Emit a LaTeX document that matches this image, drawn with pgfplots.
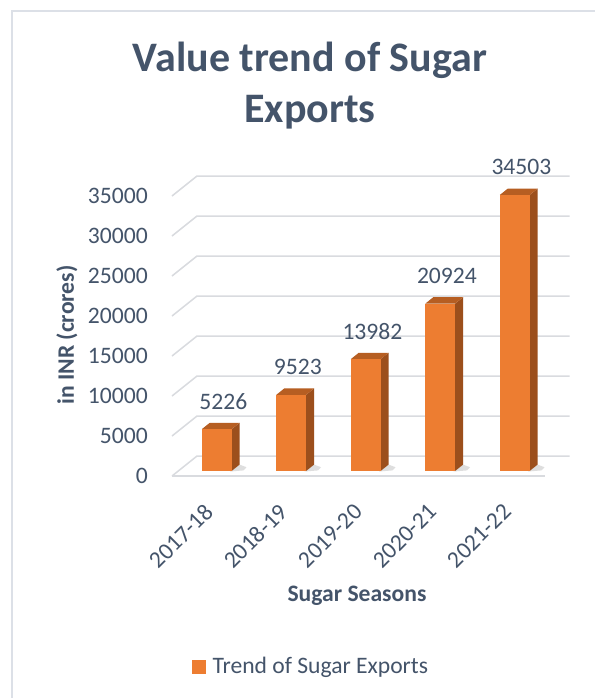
\documentclass[border=0pt]{standalone}
\usepackage{fontspec}
\setmainfont{Carlito}
\usepackage{pgfplots}
\usepackage{pgfplotstable}
\pgfplotsset{compat=1.18}

\definecolor{txt}{HTML}{44546A}
\definecolor{gridc}{HTML}{D9DBDF}
\definecolor{framec}{HTML}{DCE0E7}
\definecolor{barfront}{HTML}{ED7D31}
\definecolor{bartop}{HTML}{B65E22}
\definecolor{barside}{HTML}{9C4F1C}
\definecolor{shadowc}{HTML}{C8C8C8}

\newcommand\lblfont{\fontsize{23.6pt}{28pt}\selectfont}
\newcommand\ttlfont{\fontsize{42pt}{50pt}\selectfont\bfseries}

% export value per sugar season (INR crores)
\pgfplotstableread{
idx season value
0 2017-18 5226
1 2018-19 9523
2 2019-20 13982
3 2020-21 20924
4 2021-22 34503
}\sugardata

% faces of one 3-D column: x = category + u, y = w * value + c
\pgfplotstableread{
u w c
-0.1 0 625
0.3 0 625
0.3 1 625
-0.1 1 625
}\facefront
\pgfplotstableread{
u w c
0.3 0 625
0.407 0 1425
0.407 1 1425
0.3 1 625
}\faceside
\pgfplotstableread{
u w c
-0.1 1 625
0.3 1 625
0.407 1 1425
0.007 1 1425
}\facetop
% soft floor shadow behind the right edge of a column
\pgfplotstableread{
u w c
0.28 0 560
0.46 0 700
0.50 0 1100
0.407 0 1425
}\faceshadow

\begin{document}
\begin{tikzpicture}
\path[use as bounding box] (0,0) rectangle (595pt,-698pt);
\fill[white] (0,0) rectangle (595pt,-698pt);
\draw[framec, line width=2pt] (11.5pt,-698pt) -- (11.5pt,-11.5pt) -- (595pt,-11.5pt);

\node[anchor=base, font=\ttlfont, text=txt] at (310pt,-72pt) {Value trend of Sugar};
\node[anchor=base, font=\ttlfont, text=txt] at (310pt,-123pt) {Exports};

\begin{axis}[
  at={(172pt,-476pt)}, anchor=south west,
  scale only axis, width=372.5pt, height=280pt,
  xmin=-0.5, xmax=4.5, ymin=0, ymax=35000,
  clip=false,
  axis line style={draw=none},
  major tick length=0pt,
  ytick={0,5000,...,35000},
  scaled y ticks=false,
  /pgf/number format/1000 sep={},
  /pgf/number format/assume math mode=true,
  xtick={0,1,2,3,4},
  xticklabels from table={\sugardata}{season},
  every tick label/.append style={font=\lblfont, text=txt},
  yticklabel style={anchor=east, inner sep=0pt, xshift=-24pt},
  xticklabel style={anchor=east, inner sep=0pt, yshift=-32pt, rotate=45},
  legend style={at={(axis description cs:0.0537,-0.6804)}, anchor=west,
    draw=none, fill=none, inner sep=0pt, font=\lblfont, text=txt,
    nodes={inner sep=0pt},
    /tikz/every odd column/.append style={column sep=7pt}},
  legend cell align=left,
]

% back wall and floor grid
\pgfplotsinvokeforeach{0,5000,10000,15000,20000,25000,30000,35000}{
  \draw[gridc, line width=1.5pt] (axis cs:-0.5,#1)
    -- ([shift={(25pt,20pt)}]axis cs:-0.5,#1)
    -- ([shift={(25pt,20pt)}]axis cs:4.5,#1);
}
\draw[gridc, line width=1.5pt] (axis cs:-0.5,0) -- (axis cs:4.5,0);

% columns
\pgfplotsinvokeforeach{0,1,2,3,4}{
  \pgfplotstablegetelem{#1}{value}\of\sugardata
  \edef\barval{\pgfplotsretval}
  \edef\drawbar{%
    \noexpand\addplot[forget plot, draw=none, fill=shadowc, fill opacity=0.6] table[x expr=\noexpand\thisrow{u}+#1, y expr=\noexpand\thisrow{c}] \noexpand\faceshadow;
    \noexpand\addplot[forget plot, draw=none, fill=barside] table[x expr=\noexpand\thisrow{u}+#1, y expr=\noexpand\thisrow{w}*\barval+\noexpand\thisrow{c}] \noexpand\faceside;
    \noexpand\addplot[forget plot, draw=none, fill=bartop] table[x expr=\noexpand\thisrow{u}+#1, y expr=\noexpand\thisrow{w}*\barval+\noexpand\thisrow{c}] \noexpand\facetop;
    \noexpand\addplot[forget plot, draw=none, fill=barfront] table[x expr=\noexpand\thisrow{u}+#1, y expr=\noexpand\thisrow{w}*\barval+\noexpand\thisrow{c}] \noexpand\facefront;
  }%
  \drawbar
}

% value labels
\addplot[forget plot, draw=none, mark=none, nodes near coords, point meta=explicit symbolic,
  every node near coord/.append style={anchor=base, yshift=20pt, font=\lblfont, text=txt}]
  table[x expr=\thisrow{idx}+0.19, y expr=\thisrow{value}+625, meta=value] \sugardata;

\addlegendimage{legend image code/.code={\fill[barfront] (0pt,-6.5pt) rectangle (13pt,6.5pt);}}
\addlegendentry{Trend of Sugar Exports}
\end{axis}

\node[rotate=90, font=\lblfont\bfseries, text=txt] at (67pt,-335pt) {in INR (crores)};
\node[anchor=base, font=\lblfont\bfseries, text=txt] at (357pt,-601pt) {Sugar Seasons};
\end{tikzpicture}
\end{document}
